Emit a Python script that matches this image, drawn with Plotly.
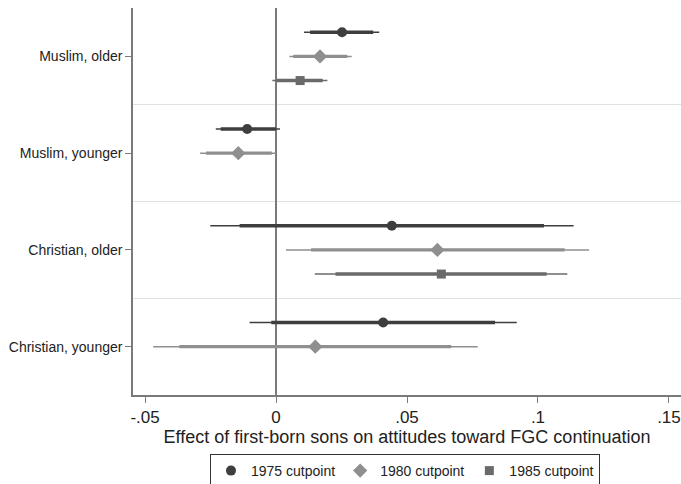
import plotly.graph_objects as go

groups = ["Muslim, older", "Muslim, younger", "Christian, older", "Christian, younger"]
series = ["1975 cutpoint", "1980 cutpoint", "1985 cutpoint"]

# point estimates per series (None = not estimated)
est_1975 = [0.0252, -0.0110, 0.0442, 0.0409]
est_1980 = [0.0168, -0.0144, 0.0616, 0.0150]
est_1985 = [0.0092, None, 0.0631, None]

# 95% CI (thin)
lo95_1975 = [0.0107, -0.0230, -0.0251, -0.0101]
hi95_1975 = [0.0394, 0.0015, 0.1136, 0.0919]
lo95_1980 = [0.0051, -0.0290, 0.0038, -0.0469]
hi95_1980 = [0.0289, -0.0001, 0.1195, 0.0770]
lo95_1985 = [-0.0014, None, 0.0148, None]
hi95_1985 = [0.0196, None, 0.1112, None]

# 90% CI (thick)
lo90_1975 = [0.0130, -0.0211, -0.0139, -0.0018]
hi90_1975 = [0.0371, -0.0001, 0.1023, 0.0836]
lo90_1980 = [0.0066, -0.0267, 0.0134, -0.0369]
hi90_1980 = [0.0272, -0.0016, 0.1102, 0.0669]
lo90_1985 = [0.0003, None, 0.0227, None]
hi90_1985 = [0.0178, None, 0.1033, None]

offsets = [-0.25, 0.0, 0.25]
colors = ["#3e3e3e", "#8f8f8f", "#6a6a6a"]
symbols = ["circle", "diamond", "square"]
msizes = [10, 11, 9]

data = [
    (est_1975, lo95_1975, hi95_1975, lo90_1975, hi90_1975),
    (est_1980, lo95_1980, hi95_1980, lo90_1980, hi90_1980),
    (est_1985, lo95_1985, hi95_1985, lo90_1985, hi90_1985),
]

FONT = "Liberation Sans, Arial, Helvetica, sans-serif"

fig = go.Figure()
for k, (est, l95, h95, l90, h90) in enumerate(data):
    xs, ys, ep95, em95, ep90, em90 = [], [], [], [], [], []
    for i, v in enumerate(est):
        if v is None:
            continue
        xs.append(v)
        ys.append(i + offsets[k])
        ep95.append(h95[i] - v)
        em95.append(v - l95[i])
        ep90.append(h90[i] - v)
        em90.append(v - l90[i])
    fig.add_trace(go.Scatter(
        x=xs, y=ys, mode="markers", marker=dict(size=1, opacity=0),
        error_x=dict(type="data", symmetric=False, array=ep95, arrayminus=em95,
                     color=colors[k], thickness=1.5, width=0),
        showlegend=False, hoverinfo="skip"))
    fig.add_trace(go.Scatter(
        x=xs, y=ys, mode="markers", name=series[k],
        marker=dict(symbol=symbols[k], size=msizes[k], color=colors[k]),
        error_x=dict(type="data", symmetric=False, array=ep90, arrayminus=em90,
                     color=colors[k], thickness=3.4, width=0)))

fig.update_layout(
    width=681, height=484,
    margin=dict(l=133, r=0, t=8, b=89),
    paper_bgcolor="white", plot_bgcolor="white",
    font=dict(family=FONT, size=14, color="#222222"),
    xaxis=dict(
        range=[-0.0546, 0.1546], tickvals=[-0.05, 0, 0.05, 0.1, 0.15],
        ticktext=["-.05", "0", ".05", ".1", ".15"],
        showgrid=False, zeroline=True, zerolinecolor="#7a7a7a", zerolinewidth=1.5,
        showline=True, linecolor="#7a7a7a", linewidth=1.5,
        ticks="outside", ticklen=6, tickcolor="#7a7a7a", tickwidth=1.2,
        tickfont=dict(size=17),
        title=dict(text="Effect of first-born sons on attitudes toward FGC continuation",
                   font=dict(size=18), standoff=2),
    ),
    yaxis=dict(
        range=[3.5, -0.5], tickvals=[0, 1, 2, 3], ticktext=groups,
        showgrid=False, zeroline=False,
        showline=True, linecolor="#7a7a7a", linewidth=1.5,
        ticks="outside", ticklen=6, tickcolor="#7a7a7a", tickwidth=1.2,
        tickfont=dict(size=14),
        minor=dict(tickvals=[0.5, 1.5, 2.5], showgrid=True, gridcolor="#e2e2e2",
                   gridwidth=1, ticklen=0),
    ),
    legend=dict(
        orientation="h", xref="container", yref="container",
        x=210 / 681, xanchor="left", y=1 - 454 / 484, yanchor="top",
        bordercolor="#333333", borderwidth=1, bgcolor="white",
        font=dict(size=14), itemwidth=30,
    ),
)

fig.write_html("out.html")
